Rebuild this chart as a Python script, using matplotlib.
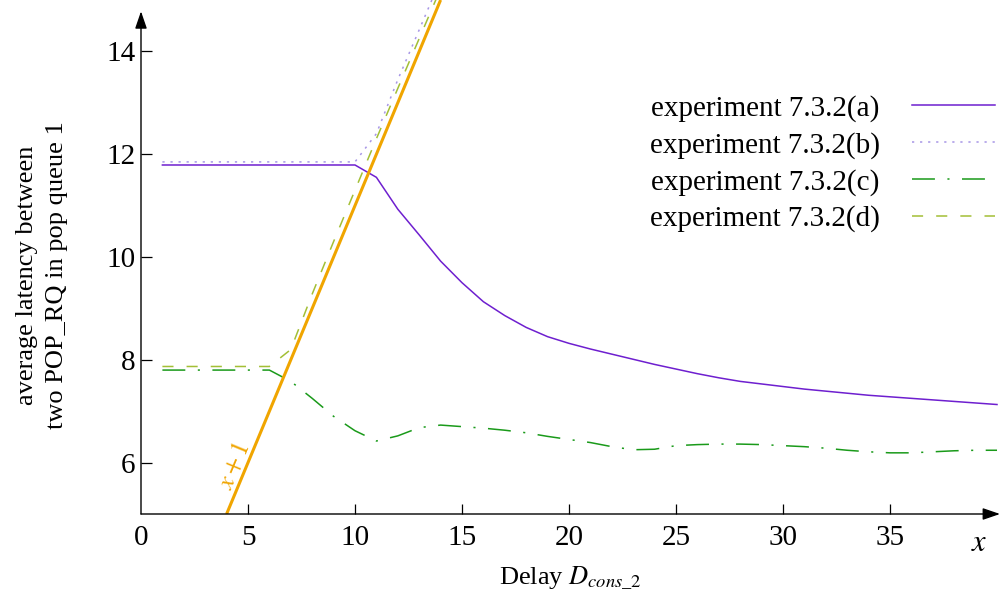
import matplotlib
matplotlib.use("Agg")
import matplotlib.pyplot as plt
import numpy as np

plt.rcParams['font.family'] = ['Liberation Serif', 'DejaVu Serif']
plt.rcParams['mathtext.fontset'] = 'stix'
plt.rcParams['lines.scale_dashes'] = False

x = list(range(1, 41))
exp_a = [11.79]*10 + [11.55, 10.93, 10.43, 9.92, 9.50, 9.13, 8.86, 8.63, 8.45, 8.32,
                      8.21, 8.11, 8.01, 7.91, 7.82, 7.73, 7.65, 7.58, 7.53, 7.48,
                      7.43, 7.39, 7.35, 7.31, 7.28, 7.25, 7.22, 7.19, 7.16, 7.13]
x_b = list(range(1, 15))
exp_b = [11.85]*10 + [12.40, 13.45, 14.42, 15.40]
exp_c = [7.80]*6 + [7.58, 7.25, 6.90, 6.62, 6.42, 6.52, 6.68, 6.73, 6.70, 6.67, 6.63,
                    6.58, 6.51, 6.45, 6.39, 6.31, 6.25, 6.26, 6.33, 6.35, 6.36, 6.36,
                    6.35, 6.33, 6.31, 6.28, 6.24, 6.21, 6.19, 6.19, 6.21, 6.23, 6.24, 6.24]
x_d = list(range(1, 15))
exp_d = [7.87]*6 + [8.20, 9.28, 10.30, 11.30, 12.30, 13.28, 14.25, 15.22]
ref_x = [4, 14]
ref_y = [5, 15]

labels = ['experiment 7.3.2(a)', 'experiment 7.3.2(b)',
          'experiment 7.3.2(c)', 'experiment 7.3.2(d)']
xticks = [0, 5, 10, 15, 20, 25, 30, 35]
yticks = [6, 8, 10, 12, 14]

W, H = 1003, 598
fig = plt.figure(figsize=(W/100, H/100), dpi=100)
left, right, bottom, top = 141, 1000, 514, 0
ax = fig.add_axes([left/W, (H-bottom)/H, (right-left)/W, (bottom-top)/H])
ax.set_xlim(0, 40.14)
ax.set_ylim(5, 15.0)
for s in ax.spines.values():
    s.set_visible(False)

lw = 1.1
ax.plot(x, exp_a, color='#6e1fcf', lw=lw, label=labels[0])
ax.plot(x_b, exp_b, color='#a796e6', lw=lw, dashes=(1.6, 4.2), label=labels[1])
ax.plot(x, exp_c, color='#1a9a1a', lw=lw, dashes=(16.5, 9.0, 1.5, 9.0), label=labels[2])
ax.plot(x_d, exp_d, color='#a3bf35', lw=lw, dashes=(8, 9.4), label=labels[3])
ax.plot(ref_x, ref_y, color='#f0a500', lw=2.2, solid_capstyle='butt')
ax.text(4.35, 5.93, '$x+1$', rotation=67.4, ha='center', va='center',
        color='#f0a500', fontsize=18, rotation_mode='anchor')

# axes with arrows
astyle = '-|>,head_length=1.05,head_width=0.36'
ax.annotate('', xy=(40.14, 5), xytext=(0, 5), xycoords='data',
            arrowprops=dict(arrowstyle=astyle, color='black', mutation_scale=10,
                            lw=1.0, shrinkA=0, shrinkB=0), annotation_clip=False)
ax.annotate('', xy=(0, 14.78), xytext=(0, 5), xycoords='data',
            arrowprops=dict(arrowstyle=astyle, color='black', mutation_scale=10,
                            lw=1.0, shrinkA=0, shrinkB=0), annotation_clip=False)

ax.set_xticks(xticks)
ax.set_xticklabels([str(t) for t in xticks])
ax.set_yticks(yticks)
ax.set_yticklabels([str(t) for t in yticks])
ax.tick_params(axis='x', direction='in', length=7, width=0.9, labelsize=21, pad=8)
ax.tick_params(axis='y', direction='in', length=8, width=0.9, labelsize=21, pad=4)
ax.xaxis.get_major_ticks()[0].tick1line.set_visible(False)
ax.text(39.15, 4.70, '$x$', ha='center', va='top', fontsize=22)

fig.text(570/W, 1-578/H, r'Delay $D_{cons\_2}$', ha='center', va='center', fontsize=19)
fig.text(42/W, 1-275/H, 'average latency between\ntwo POP_RQ in pop queue 1',
         rotation=90, ha='center', va='center', fontsize=19, multialignment='center',
         linespacing=1.45)

leg = fig.legend(loc='upper right', bbox_to_anchor=(995/W, 1-95/H), frameon=False,
                 markerfirst=False, fontsize=21, handlelength=2.85, handletextpad=1.1,
                 labelspacing=0.34, borderpad=0, borderaxespad=0)

fig.savefig('out.png', dpi=100)
